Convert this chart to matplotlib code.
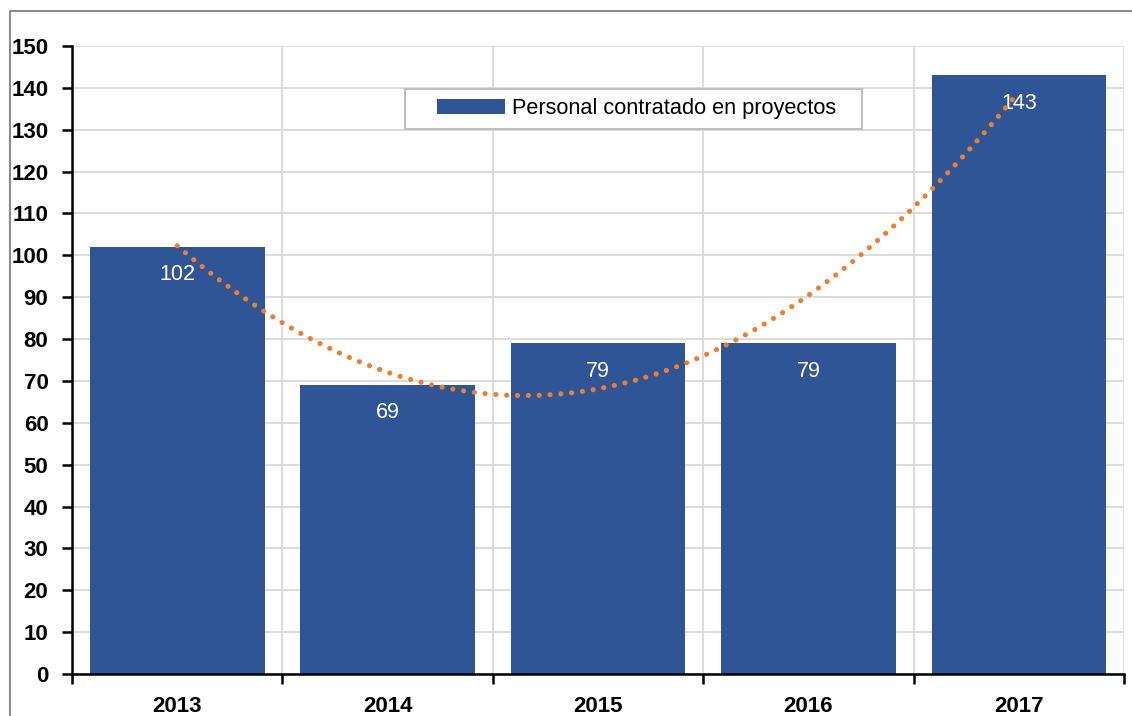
import numpy as np
import matplotlib.pyplot as plt
from matplotlib.lines import Line2D
from matplotlib.patches import Rectangle

anios = ['2013', '2014', '2015', '2016', '2017']
personal = [102, 69, 79, 79, 143]
serie = 'Personal contratado en proyectos'

plt.rcParams['font.family'] = ['Liberation Sans', 'DejaVu Sans']

azul = '#2F5597'
naranja = '#ED7D31'
gris = '#D9D9D9'

x = np.arange(len(anios))

fig = plt.figure(figsize=(11.32, 7.16), dpi=100)
ax = fig.add_axes([0.0636, 0.0587, 0.9294, 0.8771])

# marco exterior del gráfico
fig.add_artist(Line2D([0.0084, 0.0084, 1.0], [0.0, 0.984, 0.984],
                      transform=fig.transFigure, color='#8C8C8C', lw=1.5))

barras = ax.bar(x, personal, width=0.83, color=azul, zorder=2, label=serie)

# etiquetas de valor dentro del extremo de cada barra
for xi, v in zip(x, personal):
    ax.annotate(str(v), (xi, v), xytext=(0, -20), textcoords='offset points',
                ha='center', va='center', color='white', fontsize=15.5, zorder=3)

# línea de tendencia polinómica de grado 2
coef = np.polyfit(x, personal, 2)
xt = np.linspace(x[0], x[-1], 300)
ax.plot(xt, np.polyval(coef, xt), color=naranja, lw=3.7,
        linestyle=(0, (0.01, 2.1)), dash_capstyle='round', zorder=4,
        label='_nolegend_')

ax.set_xlim(-0.5, len(anios) - 0.5)
ax.set_ylim(0, 150)
ax.set_yticks(np.arange(0, 151, 10))

# marcas mayores en los límites de categoría, etiquetas en los centros
ax.set_xticks(np.arange(-0.5, len(anios), 1.0))
ax.set_xticklabels([])
ax.set_xticks(x, minor=True)
ax.set_xticklabels(anios, minor=True)
ax.tick_params(axis='x', which='minor', length=0, pad=16)
ax.tick_params(axis='x', which='major', length=7, width=1.8, color='black')
ax.tick_params(axis='y', length=7, width=1.8, pad=10)
for lab in ax.get_xticklabels(minor=True) + ax.get_yticklabels():
    lab.set_fontweight('bold')
    lab.set_fontsize(16)

ax.grid(True, which='major', color=gris, lw=1.3, zorder=0)
ax.set_axisbelow(True)
for s in ['top', 'right']:
    ax.spines[s].set_visible(False)
for s in ['left', 'bottom']:
    ax.spines[s].set_linewidth(1.8)
    ax.spines[s].set_zorder(5)

# recuadro de la leyenda, más ancho que su contenido
ax.add_patch(Rectangle((0.3166, 0.868), 0.4344, 0.0637, transform=ax.transAxes,
                       facecolor='white', edgecolor='#BFBFBF', lw=1.5,
                       zorder=6, clip_on=False))
leg = ax.legend(loc='center left', bbox_to_anchor=(0.347, 0.8997), fontsize=15.7,
                frameon=False, handlelength=3.1, handleheight=0.67,
                handletextpad=0.32, borderpad=0, borderaxespad=0)
leg.set_zorder(7)

fig.savefig('out.png', dpi=100)
